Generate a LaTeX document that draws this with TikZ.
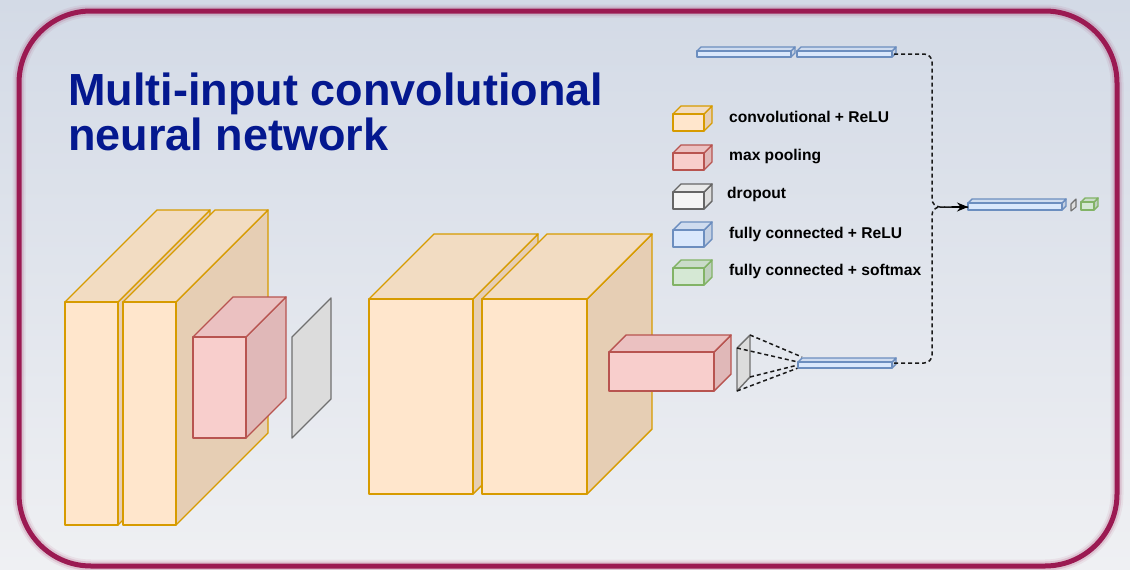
\documentclass[tikz,border=0pt]{standalone}
\usepackage{fontspec}
\setmainfont{Liberation Sans}
\usetikzlibrary{arrows.meta}
\definecolor{bgtop}{HTML}{D3DAE6}
\definecolor{bgbot}{HTML}{EFF0F3}
\definecolor{frame}{HTML}{9B1A52}
\definecolor{titleblue}{RGB}{4,24,143}
\definecolor{convF}{HTML}{FFE6CC}\definecolor{convT}{HTML}{F2DCC2}\definecolor{convS}{HTML}{E6CEB4}\definecolor{convD}{HTML}{D79B00}
\definecolor{poolF}{HTML}{F8CECC}\definecolor{poolT}{HTML}{EBC1C1}\definecolor{poolS}{HTML}{E0B8B8}\definecolor{poolD}{HTML}{B85450}
\definecolor{dropF}{HTML}{F5F5F5}\definecolor{dropT}{HTML}{E9E9E9}\definecolor{dropS}{HTML}{DDDDDD}\definecolor{dropD}{HTML}{666666}
\definecolor{fcF}{HTML}{DAE8FC}\definecolor{fcT}{HTML}{CFDCEF}\definecolor{fcS}{HTML}{C4D0E2}\definecolor{fcD}{HTML}{6C8EBF}
\definecolor{smF}{HTML}{D5E8D4}\definecolor{smT}{HTML}{CADCC9}\definecolor{smS}{HTML}{BFD0BE}\definecolor{smD}{HTML}{82B366}
\definecolor{planeF}{HTML}{DCDCDC}\definecolor{planeD}{HTML}{707070}
% x y w h d colourprefix
\newcommand{\mycube}[6]{%
  \filldraw[draw=#6D, fill=#6S, line width=1.4pt, line join=round] ({#1+#3},#2) -- ++(#5,-#5) -- ++(0,#4) -- ({#1+#3},{#2+#4}) -- cycle;
  \filldraw[draw=#6D, fill=#6T, line width=1.4pt, line join=round] (#1,#2) -- ++(#5,-#5) -- ++(#3,0) -- ({#1+#3},#2) -- cycle;
  \filldraw[draw=#6D, fill=#6F, line width=1.4pt, line join=round] (#1,#2) rectangle ++(#3,#4);
}
\tikzset{
  conn/.style={draw=black!90, line width=1.5pt, dash pattern=on 4pt off 3pt},
  legtext/.style={anchor=west, inner sep=0pt, font=\fontsize{15.6}{18}\selectfont\bfseries, text=black},
  titletext/.style={anchor=base west, inner sep=0pt, font=\fontsize{45}{45}\selectfont\bfseries, text=titleblue},
  planestyle/.style={fill=planeF, draw=planeD, line width=1.4pt, line join=round}
}
\begin{document}
\begin{tikzpicture}[x=1pt,y=-1pt]
\useasboundingbox (0,0) rectangle (1130,570);
\shade[top color=bgtop,bottom color=bgbot] (0pt,0pt) rectangle (1130pt,-570pt);
% frame with soft glow
\draw[frame, opacity=0.07, line width=13pt, rounded corners=72pt] (19,11) rectangle (1117,566);
\draw[frame, opacity=0.15, line width=9pt, rounded corners=72pt] (19,11) rectangle (1117,566);
\draw[frame, line width=5pt, rounded corners=72pt] (19,11) rectangle (1117,566);
% title
\node[titletext] (title1) at (68,105) {Multi-input convolutional};
\node[titletext] (title2) at (68,150) {neural network};
% first branch
\mycube{65}{302}{53}{223}{92}{conv}
\mycube{123}{302}{53}{223}{92}{conv}
\mycube{193}{337}{53}{101}{40}{pool}
\filldraw[planestyle] (292,337) -- (331,298) -- (331,399) -- (292,438) -- cycle;
% second branch
\mycube{369}{299}{104}{195}{65}{conv}
\mycube{482}{299}{105}{195}{65}{conv}
\mycube{609}{352}{105}{39}{17}{pool}
\filldraw[planestyle] (737,348) -- (750,335) -- (750,377) -- (737,391) -- cycle;
\coordinate (p2a) at (750,335);
\coordinate (p2b) at (737,348);
\coordinate (p2c) at (750,377);
\coordinate (p2d) at (737,391);
\coordinate (fcDa) at (802,357);
\coordinate (fcDb) at (798,362);
\coordinate (fcDc) at (798,365);
\coordinate (fcDd) at (798,368);
\draw[conn] (p2a) -- (fcDa);
\draw[conn] (p2b) -- (fcDb);
\draw[conn] (p2c) -- (fcDc);
\draw[conn] (p2d) -- (fcDd);
\mycube{798}{362}{94}{6}{4}{fc}
% top fully connected inputs
\mycube{697}{51}{94}{6}{4}{fc}
\mycube{797}{51}{95}{6}{4}{fc}
% merged
\mycube{968}{203}{94}{7}{4}{fc}
\filldraw[fill=planeF, draw=planeD, line width=1.1pt, line join=round] (1071,204) -- (1076,199) -- (1076,207) -- (1071,211) -- cycle;
\mycube{1081}{202}{13}{8}{4}{sm}
% connectors
\coordinate (fcBout) at (894,54);
\coordinate (fcDout) at (894,363);
\coordinate (jn) at (932,207);
\coordinate (fcCin) at (968,207);
\draw[conn, rounded corners=8pt] (fcBout) -| (jn) -- (fcCin);
\draw[conn, rounded corners=8pt] (fcDout) -| (jn) -- (fcCin);
\draw[line width=1.5pt, -{Stealth[length=11pt,width=9pt]}] (952,207) -- (fcCin);
% legend
\mycube{673}{114}{31}{17}{8}{conv}
\mycube{673}{153}{31}{17}{8}{pool}
\mycube{673}{192}{31}{17}{8}{drop}
\mycube{673}{230}{31}{17}{8}{fc}
\mycube{673}{268}{31}{17}{8}{sm}
\node[legtext] (l1) at (729,117) {convolutional + ReLU};
\node[legtext] (l2) at (729,156) {max pooling};
\node[legtext] (l3) at (727,194) {dropout};
\node[legtext] (l4) at (729,234) {fully connected + ReLU};
\node[legtext] (l5) at (729,271) {fully connected + softmax};
\end{tikzpicture}
\end{document}
